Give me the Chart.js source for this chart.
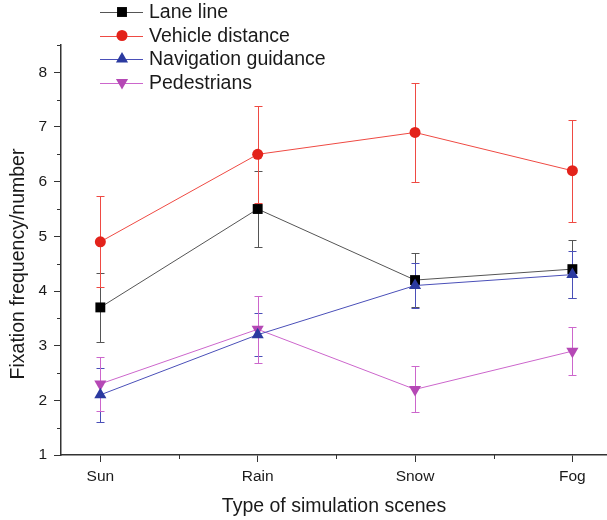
<!DOCTYPE html>
<html>
<head>
<meta charset="utf-8">
<script src="https://cdn.jsdelivr.net/npm/chart.js@4/dist/chart.umd.min.js"></script>
<style>
html,body{margin:0;padding:0;background:#fff;}
#wrap{width:607px;height:520px;position:relative;}
</style>
</head>
<body>
<div id="wrap"><canvas id="c" width="607" height="520"></canvas></div>
<script>
const categories = ['Sun', 'Rain', 'Snow', 'Fog'];
const yTickValues = [1, 2, 3, 4, 5, 6, 7, 8];

const laneLine = [3.7, 5.5, 4.2, 4.4];
const laneLineErr = [0.63, 0.69, 0.5, 0.53];
const vehicleDistance = [4.9, 6.5, 6.9, 6.2];
const vehicleDistanceErr = [0.83, 0.89, 0.91, 0.93];
const navigationGuidance = [2.1, 3.2, 4.1, 4.3];
const navigationGuidanceErr = [0.49, 0.39, 0.41, 0.43];
const pedestrians = [2.3, 3.3, 2.2, 2.9];
const pedestriansErr = [0.49, 0.61, 0.42, 0.44];

const seriesNames = ['Lane line', 'Vehicle distance', 'Navigation guidance', 'Pedestrians'];

const FONT = "'Liberation Sans', Arial, Helvetica, sans-serif";

function toPoints(arr){ return arr.map((v,i)=>({x:i, y:v})); }

function drawMarker(ctx, style, r, x, y, fill){
  ctx.save();
  ctx.fillStyle = fill;
  ctx.beginPath();
  if (style === 'rect') {
    const s = r * Math.SQRT1_2;
    ctx.rect(x - s, y - s, 2*s, 2*s);
  } else if (style === 'circle') {
    ctx.arc(x, y, r, 0, Math.PI*2);
  } else if (style === 'triangle') {
    ctx.moveTo(x, y - r);
    ctx.lineTo(x + r*Math.sin(2*Math.PI/3), y - r*Math.cos(2*Math.PI/3));
    ctx.lineTo(x + r*Math.sin(4*Math.PI/3), y - r*Math.cos(4*Math.PI/3));
    ctx.closePath();
  } else if (style === 'triangleDown') {
    ctx.moveTo(x, y + r);
    ctx.lineTo(x + r*Math.sin(2*Math.PI/3), y + r*Math.cos(2*Math.PI/3));
    ctx.lineTo(x + r*Math.sin(4*Math.PI/3), y + r*Math.cos(4*Math.PI/3));
    ctx.closePath();
  }
  ctx.fill();
  ctx.restore();
}

const errorBarPlugin = {
  id: 'errorBars',
  beforeDatasetsDraw(chart){
    const ctx = chart.ctx;
    const xs = chart.scales.x, ys = chart.scales.y;
    chart.data.datasets.forEach(ds => {
      if (!ds.errorBars) return;
      ctx.save();
      ctx.strokeStyle = ds.borderColor;
      ctx.lineWidth = 1;
      ds.data.forEach((p, i) => {
        const e = ds.errorBars[i];
        const px = Math.round(xs.getPixelForValue(p.x)) + 0.5;
        const yt = Math.round(ys.getPixelForValue(p.y + e)) + 0.5;
        const yb = Math.round(ys.getPixelForValue(p.y - e)) + 0.5;
        ctx.beginPath();
        ctx.moveTo(px, yt); ctx.lineTo(px, yb);
        ctx.moveTo(px - 4, yt); ctx.lineTo(px + 4, yt);
        ctx.moveTo(px - 4, yb); ctx.lineTo(px + 4, yb);
        ctx.stroke();
      });
      ctx.restore();
    });
  }
};

const decorPlugin = {
  id: 'decor',
  afterDraw(chart){
    const ctx = chart.ctx;
    const xs = chart.scales.x, ys = chart.scales.y;
    const area = chart.chartArea;
    ctx.save();
    ctx.strokeStyle = '#333';
    ctx.lineWidth = 1;
    for (let i = 0; i < yTickValues.length; i++) {
      const v = yTickValues[i] + 0.5;
      if (v > ys.max) break;
      const py = Math.round(ys.getPixelForValue(v)) + 0.5;
      ctx.beginPath(); ctx.moveTo(area.left - 4, py); ctx.lineTo(area.left, py); ctx.stroke();
    }
    for (let i = 0; i < categories.length - 1; i++) {
      const px = Math.round(xs.getPixelForValue(i + 0.5)) + 0.5;
      ctx.beginPath(); ctx.moveTo(px, area.bottom); ctx.lineTo(px, area.bottom + 4); ctx.stroke();
    }
    ctx.restore();

    ctx.save();
    ctx.translate(19, 264);
    ctx.rotate(-Math.PI/2);
    ctx.font = '19.5px ' + FONT;
    ctx.fillStyle = '#1a1a1a';
    ctx.textAlign = 'center';
    ctx.textBaseline = 'middle';
    ctx.fillText('Fixation frequency/number', 0, 0);
    ctx.restore();

    ctx.save();
    chart.data.datasets.forEach((ds, i) => {
      const y = 12 + i * 23.5;
      ctx.strokeStyle = ds.borderColor;
      ctx.lineWidth = 1;
      ctx.beginPath(); ctx.moveTo(100, Math.round(y) + 0.5); ctx.lineTo(143, Math.round(y) + 0.5); ctx.stroke();
      drawMarker(ctx, ds.markerShape, ds.pointRadius, 122, y, ds.pointBackgroundColor);
      ctx.font = '19.5px ' + FONT;
      ctx.fillStyle = '#1a1a1a';
      ctx.textAlign = 'left';
      ctx.textBaseline = 'middle';
      ctx.fillText(ds.label, 149, y + 1);
    });
    ctx.restore();
  }
};

const styles = [
  {line: '#555555', fill: '#000000', shape: 'rect', pstyle: 'rect', rot: 0, r: 7, order: 1},
  {line: '#ef4a43', fill: '#e3231b', shape: 'circle', pstyle: 'circle', rot: 0, r: 5.5, order: 2},
  {line: '#4a4fb8', fill: '#2b3aa0', shape: 'triangle', pstyle: 'triangle', rot: 0, r: 7, order: 0},
  {line: '#cc66cc', fill: '#b548b5', shape: 'triangleDown', pstyle: 'triangle', rot: 180, r: 7, order: 3}
];
const seriesValues = [laneLine, vehicleDistance, navigationGuidance, pedestrians];
const seriesErrors = [laneLineErr, vehicleDistanceErr, navigationGuidanceErr, pedestriansErr];

const datasets = seriesValues.map((vals, i) => ({
  label: seriesNames[i],
  data: toPoints(vals),
  errorBars: seriesErrors[i],
  borderColor: styles[i].line,
  borderWidth: 1,
  pointStyle: styles[i].pstyle,
  pointRotation: styles[i].rot,
  pointRadius: styles[i].r,
  pointHoverRadius: styles[i].r,
  pointBackgroundColor: styles[i].fill,
  pointBorderColor: styles[i].fill,
  pointBorderWidth: 0,
  markerShape: styles[i].shape,
  fill: false,
  tension: 0,
  order: styles[i].order
}));

new Chart(document.getElementById('c'), {
  type: 'line',
  data: { datasets },
  plugins: [errorBarPlugin, decorPlugin],
  options: {
    responsive: false,
    animation: false,
    events: [],
    layout: { autoPadding: false, padding: { top: 45, right: 0, left: 0, bottom: 0 } },
    plugins: { legend: { display: false }, tooltip: { enabled: false }, title: { display: false } },
    scales: {
      x: {
        type: 'linear',
        min: -0.25,
        max: 3.22,
        afterBuildTicks(scale){ scale.ticks = categories.map((c, i) => ({value: i})); },
        afterFit(scale){ scale.height = 65; scale.paddingLeft = 0; scale.paddingRight = 0; },
        ticks: {
          callback: (v) => categories[v] !== undefined ? categories[v] : '',
          font: { family: FONT, size: 15.5 },
          color: '#1a1a1a',
          padding: 5,
          maxRotation: 0,
          autoSkip: false
        },
        grid: { drawOnChartArea: false, drawTicks: true, tickLength: 7, color: '#333', lineWidth: 1 },
        border: { display: true, color: '#333', width: 1.5 },
        title: {
          display: true,
          text: 'Type of simulation scenes',
          font: { family: FONT, size: 19.5 },
          color: '#1a1a1a',
          padding: { top: 0, bottom: 2 }
        }
      },
      y: {
        type: 'linear',
        min: 1,
        max: 8.5,
        afterBuildTicks(scale){ scale.ticks = yTickValues.map(v => ({value: v})); },
        afterFit(scale){ scale.width = 61; scale.paddingTop = 0; scale.paddingBottom = 0; },
        ticks: {
          font: { family: FONT, size: 15.5 },
          color: '#1a1a1a',
          padding: 7,
          autoSkip: false
        },
        grid: { drawOnChartArea: false, drawTicks: true, tickLength: 7, color: '#333', lineWidth: 1 },
        border: { display: true, color: '#333', width: 1.5 }
      }
    }
  }
});
</script>
</body>
</html>
